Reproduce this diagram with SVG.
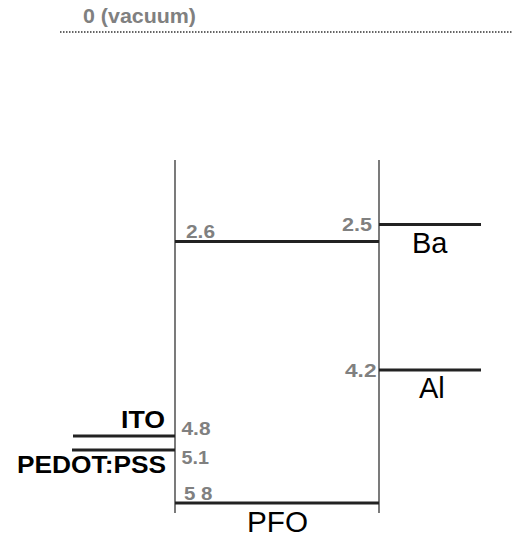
<svg xmlns="http://www.w3.org/2000/svg" width="512" height="539" viewBox="0 0 512 539">
  <style>
    .lvl { stroke: #222; stroke-width: 3; fill: none; }
    .wall { stroke: #222; stroke-width: 1.2; fill: none; }
    .val { font-family: "Liberation Sans", Arial, sans-serif; font-weight: bold; font-size: 19px; fill: #808080; }
    .name { font-family: "Liberation Sans", Arial, sans-serif; font-size: 29px; fill: #000; }
    .bname { font-family: "Liberation Sans", Arial, sans-serif; font-weight: bold; font-size: 24px; fill: #000; }
  </style>
  <rect width="512" height="539" fill="#fff"/>

  <!-- vacuum level -->
  <g id="vacuum">
    <line x1="60" y1="32" x2="512" y2="32" stroke="#333" stroke-width="1.5" stroke-dasharray="1.5 1.5"/>
    <text class="val" x="83" y="22.5" style="font-size:20px" textLength="113" lengthAdjust="spacingAndGlyphs">0 (vacuum)</text>
  </g>

  <!-- PFO layer -->
  <g id="pfo">
    <line class="wall" x1="175" y1="160" x2="175" y2="513"/>
    <line class="wall" x1="379" y1="160" x2="379" y2="513"/>
    <line class="lvl" x1="175" y1="241.5" x2="379" y2="241.5"/>
    <line class="lvl" x1="175" y1="503" x2="379" y2="503"/>
    <text class="val" x="186" y="238" textLength="29" lengthAdjust="spacingAndGlyphs">2.6</text>
    <text class="val" x="184" y="499.5" textLength="28.5" lengthAdjust="spacingAndGlyphs">5 8</text>
    <text class="name" x="247" y="532" textLength="61" lengthAdjust="spacingAndGlyphs">PFO</text>
  </g>

  <!-- Ba cathode -->
  <g id="ba">
    <line class="lvl" x1="379" y1="224.5" x2="481" y2="224.5"/>
    <text class="val" x="342" y="230.5" textLength="30" lengthAdjust="spacingAndGlyphs">2.5</text>
    <text class="name" x="412" y="253">Ba</text>
  </g>

  <!-- Al cathode -->
  <g id="al">
    <line class="lvl" x1="379" y1="370" x2="481" y2="370"/>
    <text class="val" x="345" y="376.5" textLength="31.5" lengthAdjust="spacingAndGlyphs">4.2</text>
    <text class="name" x="419" y="398">Al</text>
  </g>

  <!-- ITO anode -->
  <g id="ito">
    <line class="lvl" x1="73" y1="436" x2="175" y2="436"/>
    <text class="bname" x="121" y="428" textLength="44" lengthAdjust="spacingAndGlyphs">ITO</text>
    <text class="val" x="181.5" y="435" textLength="29" lengthAdjust="spacingAndGlyphs">4.8</text>
  </g>

  <!-- PEDOT:PSS layer -->
  <g id="pedot">
    <line class="lvl" x1="72" y1="450" x2="175" y2="450"/>
    <text class="bname" x="17" y="472.5" textLength="149" lengthAdjust="spacingAndGlyphs">PEDOT:PSS</text>
    <text class="val" x="181.5" y="463.5" textLength="27.5" lengthAdjust="spacingAndGlyphs">5.1</text>
  </g>

  <g id="connectors"></g>
</svg>
